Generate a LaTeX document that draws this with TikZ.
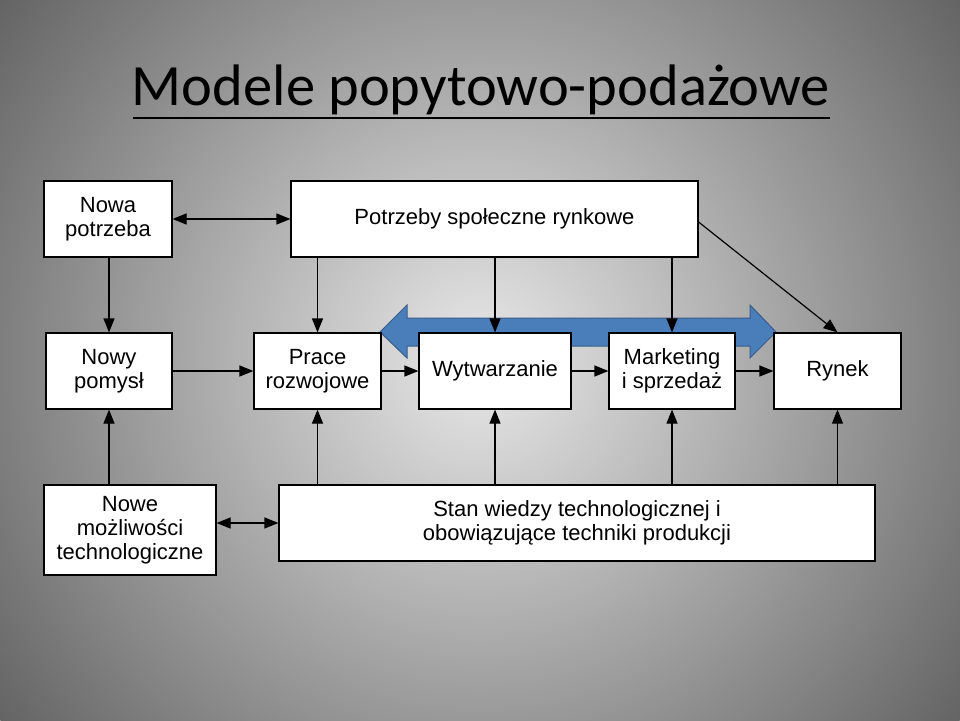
\documentclass[tikz,border=0pt]{standalone}
\usepackage{fontspec}
\setmainfont{Liberation Sans}
\newfontfamily\titlefont{Carlito}
\usetikzlibrary{arrows.meta,shapes.arrows}
\definecolor{bgin}{RGB}{232,232,232}
\definecolor{bgout}{RGB}{100,100,100}
\begin{document}
\begin{tikzpicture}[x=1pt,y=-1pt,
  box/.style={draw=black,fill=white,line width=1.2pt,inner sep=0pt,align=center,font=\fontsize{22}{24}\selectfont},
  con/.style={line width=1.2pt,-{Triangle[length=14pt,width=11pt]}},
  dcon/.style={line width=1.2pt,{Triangle[length=14pt,width=11pt]}-{Triangle[length=14pt,width=11pt]}}]
\useasboundingbox (0,0) rectangle (960,720);
\begin{scope}
\clip (0,0) rectangle (960,720);
\shade[inner color=bgin,outer color=bgout] (480,360) circle (600);
\end{scope}
\node[font=\titlefont\fontsize{58.5}{62}\selectfont] (title) at (481,90) {Modele popytowo-podażowe};
\draw[line width=1.2pt] (133,118) -- (830,118);
% blue double arrow
\filldraw[fill={rgb,255:red,74;green,126;blue,187},draw={rgb,255:red,56;green,93;blue,138},line width=1pt]
 (380,332) -- (407,305) -- (407,318) -- (750,318) -- (750,305) -- (776,332) -- (750,358) -- (750,346) -- (407,346) -- (407,358) -- cycle;
\node[box,minimum width=128,minimum height=76] (np) at (108,219) {Nowa\\potrzeba};
\node[box,minimum width=407,minimum height=76] (ps) at (494.5,219) {Potrzeby społeczne rynkowe};
\node[box,minimum width=126,minimum height=76] (ny) at (109,371) {Nowy\\pomysł};
\node[box,minimum width=127,minimum height=76] (pr) at (317.5,371) {Prace\\rozwojowe};
\node[box,minimum width=152,minimum height=76] (wy) at (495,371) {Wytwarzanie};
\node[box,minimum width=126,minimum height=76] (ma) at (672,371) {Marketing\\i sprzedaż};
\node[box,minimum width=127,minimum height=76] (ry) at (837.5,371) {Rynek};
\node[box,minimum width=172,minimum height=90] (nm) at (130,530) {Nowe\\możliwości\\technologiczne};
\node[box,minimum width=596,minimum height=76] (sw) at (577,523) {Stan wiedzy technologicznej i\\obowiązujące techniki produkcji};
\draw[dcon] (np.east) -- (ps.west);
\draw[con] (np.south -| ny.north) -- (ny.north);
\draw[con] (ps.south -| pr.north) -- (pr.north);
\draw[con] (ps.south -| wy.north) -- (wy.north);
\draw[con] (ps.south -| ma.north) -- (ma.north);
\draw[con] (ps.east) ++(0,3) -- (ry.north);
\draw[con] (ny) -- (pr);
\draw[con] (pr) -- (wy);
\draw[con] (wy) -- (ma);
\draw[con] (ma) -- (ry);
\draw[con] (nm.north -| ny.south) -- (ny.south);
\draw[con] (sw.north -| pr.south) -- (pr.south);
\draw[con] (sw.north -| wy.south) -- (wy.south);
\draw[con] (sw.north -| ma.south) -- (ma.south);
\draw[con] (sw.north -| ry.south) -- (ry.south);
\draw[dcon] (nm.east |- sw.west) -- (sw.west);
\end{tikzpicture}
\end{document}
